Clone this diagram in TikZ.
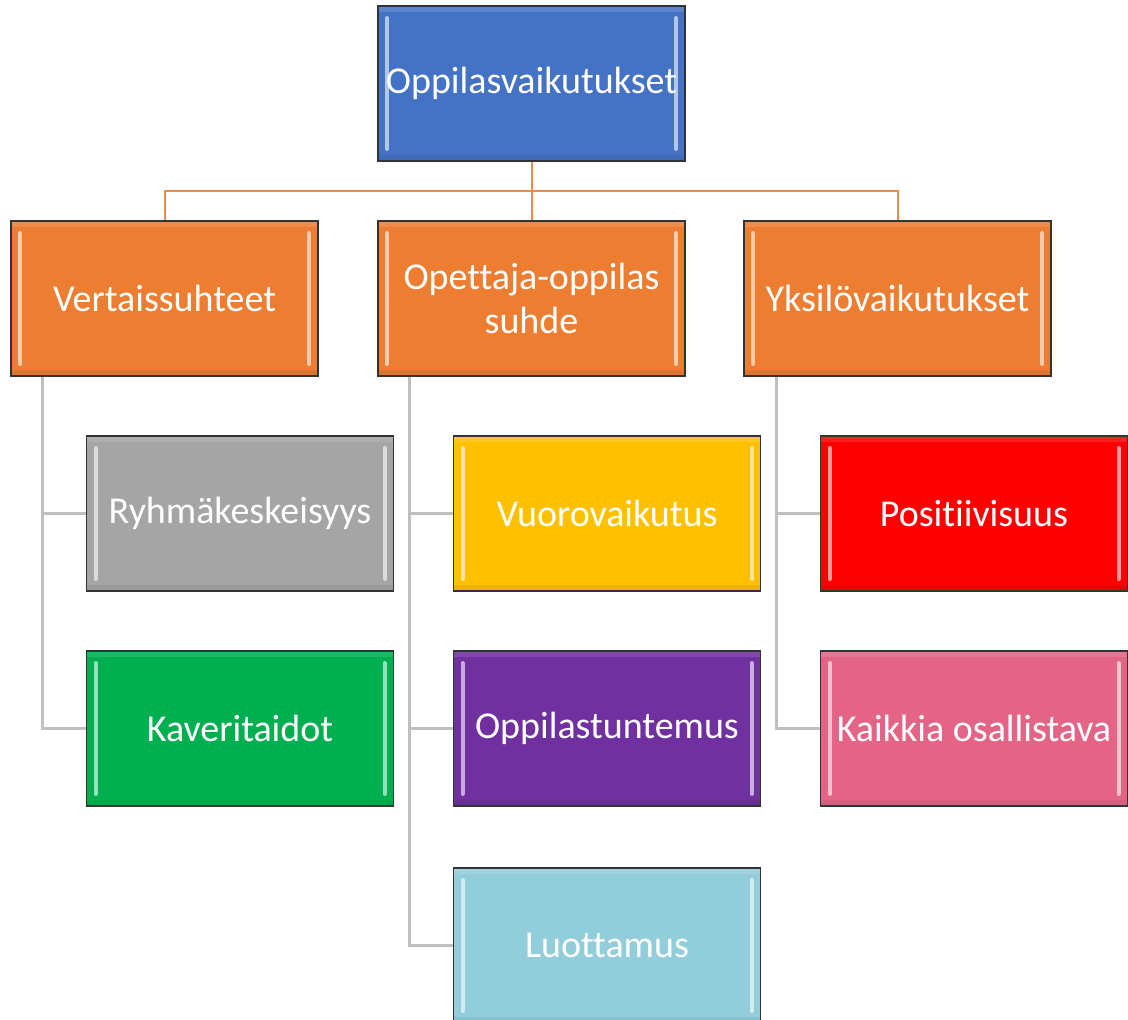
\documentclass[tikz,border=0pt]{standalone}
\usepackage{fontspec}
\setmainfont{Carlito}[Ligatures={NoCommon}]
\usetikzlibrary{calc}
\definecolor{cblue}{HTML}{4472C4}
\definecolor{corange}{HTML}{ED7D31}
\definecolor{cgray}{HTML}{A5A5A5}
\definecolor{cgreen}{HTML}{00B050}
\definecolor{cgold}{HTML}{FFC000}
\definecolor{cpurple}{HTML}{7030A0}
\definecolor{cred}{HTML}{FF0000}
\definecolor{cpink}{HTML}{E46487}
\definecolor{clblue}{HTML}{92CDDC}
\definecolor{cline}{HTML}{BFBFBF}
\definecolor{coline}{HTML}{EF8A47}
\tikzset{
  box/.style={rectangle, draw=black!80, line width=1.3pt, fill=#1,
    minimum width=307pt, minimum height=155pt, inner sep=0pt,
    text=white, align=center,
    font=\fontsize{38}{44}\selectfont,
    path picture={
      \fill[white,opacity=.12] (path picture bounding box.north west) rectangle ([yshift=-6pt]path picture bounding box.north east);
      \fill[black,opacity=.06] (path picture bounding box.south west) rectangle ([yshift=6pt]path picture bounding box.south east);
      \draw[white,opacity=.6,line width=4pt,line cap=round]
        ([xshift=9pt,yshift=-12pt]path picture bounding box.north west) --
        ([xshift=9pt,yshift=12pt]path picture bounding box.south west);
      \draw[white,opacity=.6,line width=4pt,line cap=round]
        ([xshift=-9pt,yshift=-12pt]path picture bounding box.north east) --
        ([xshift=-9pt,yshift=12pt]path picture bounding box.south east);
    }},
  oconn/.style={draw=coline, line width=2pt},
  gconn/.style={draw=cline, line width=2.5pt},
}
\begin{document}
\begin{tikzpicture}[x=1pt,y=-1pt]
\useasboundingbox (0,0) rectangle (1128,1020);
\coordinate (bus) at (531.5,191);
\node[box=cblue] (top) at (531.5,83.5) {Oppilasvaikutukset};
\node[box=corange] (vt) at (164.5,298.5) {Vertaissuhteet};
\node[box=corange] (op) at (531.5,298.5) {Opettaja-oppilas\\suhde};
\node[box=corange] (yk) at (897.5,298.5) {Yksilövaikutukset};
\node[box=cgray] (ryh) at (240,513.5) {Ryhmäkeskeisyys};
\node[box=cgreen] (kav) at (240,728.5) {Kaveritaidot};
\node[box=cgold] (vuo) at (607,513.5) {Vuorovaikutus};
\node[box=cpurple] (opt) at (607,728.5) {Oppilastuntemus};
\node[box=clblue] (luo) at (607,945.5) {Luottamus};
\node[box=cred] (pos) at (974,513.5) {Positiivisuus};
\node[box=cpink] (kai) at (974,728.5) {Kaikkia osallistava};
\draw[oconn] (top.south) -- (op.north);
\draw[oconn] (vt.north) |- (bus) -| (yk.north);
\draw[gconn] ($(vt.south west)+(32,0)$) |- (ryh.west);
\draw[gconn] ($(vt.south west)+(32,0)$) |- (kav.west);
\draw[gconn] ($(op.south west)+(32,0)$) |- (vuo.west);
\draw[gconn] ($(op.south west)+(32,0)$) |- (opt.west);
\draw[gconn] ($(op.south west)+(32,0)$) |- (luo.west);
\draw[gconn] ($(yk.south west)+(33,0)$) |- (pos.west);
\draw[gconn] ($(yk.south west)+(33,0)$) |- (kai.west);
\end{tikzpicture}
\end{document}
